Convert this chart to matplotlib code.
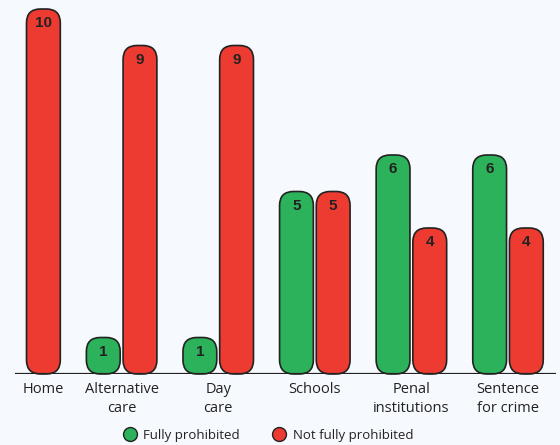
import numpy as np
import matplotlib
matplotlib.use('Agg')
import matplotlib.pyplot as plt
from matplotlib.patches import FancyBboxPatch
from matplotlib.lines import Line2D

plt.rcParams['font.family'] = ['Open Sans', 'DejaVu Sans']

# Data
categories = ['Home', 'Alternative\ncare', 'Day\ncare', 'Schools', 'Penal\ninstitutions', 'Sentence\nfor crime']
fully = [0, 1, 1, 5, 6, 6]
not_fully = [10, 9, 9, 5, 4, 4]

green = '#2bb25a'
red = '#ee3b31'
bg = '#f6f9fd'

W, H = 560, 445
fig = plt.figure(figsize=(W / 100, H / 100), dpi=100, facecolor=bg)
ax = fig.add_axes([15 / W, 71 / H, 541 / W, 365 / H], facecolor=bg)

xmin, xmax = -0.104, 5.497
ax.set_xlim(xmin, xmax)
ax.set_ylim(0, 10)

width = 0.35
offset = 0.19
# pixel scale to keep corners round
px_x = (xmax - xmin) / 541
px_y = 10 / 365
radius = 14 * px_x
aspect = px_y / px_x


def rbar(x, h, color):
    p = FancyBboxPatch((x - width / 2, 0), width, h,
                       boxstyle=f'round,pad=0,rounding_size={radius}',
                       mutation_aspect=aspect,
                       facecolor=color, edgecolor='#222222', linewidth=1.2,
                       zorder=3, clip_on=False)
    ax.add_patch(p)
    ax.text(x, h - 14 * px_y, str(h), ha='center', va='center',
            fontsize=11, fontweight='bold', color='#222222', zorder=4,
            family=['Liberation Sans', 'DejaVu Sans'])


ticks = []
for i, (g, r) in enumerate(zip(fully, not_fully)):
    if g > 0:
        rbar(i - offset, g, green)
        ticks.append(i)
    else:
        ticks.append(i + offset)
    rbar(i + offset, r, red)

# baseline
ax.axhline(0, color='#222222', linewidth=1.6, zorder=5)
for s in ax.spines.values():
    s.set_visible(False)
ax.set_yticks([])
ax.set_xticks(ticks)
ax.set_xticklabels(categories, fontsize=10.5, color='#222222', linespacing=1.3)
ax.tick_params(axis='x', length=0, pad=6)

handles = [Line2D([], [], marker='o', linestyle='none', markersize=10,
                  markerfacecolor=green, markeredgecolor='#222222', markeredgewidth=1),
           Line2D([], [], marker='o', linestyle='none', markersize=10,
                  markerfacecolor=red, markeredgecolor='#222222', markeredgewidth=1)]
fig.legend(handles, ['Fully prohibited', 'Not fully prohibited'],
           loc='center', bbox_to_anchor=(265 / W, 1 - 435 / H), ncol=2,
           frameon=False, fontsize=9.5, handletextpad=0.0, columnspacing=2.0,
           labelcolor='#222222')

fig.savefig('out.png', dpi=100, facecolor=bg)
